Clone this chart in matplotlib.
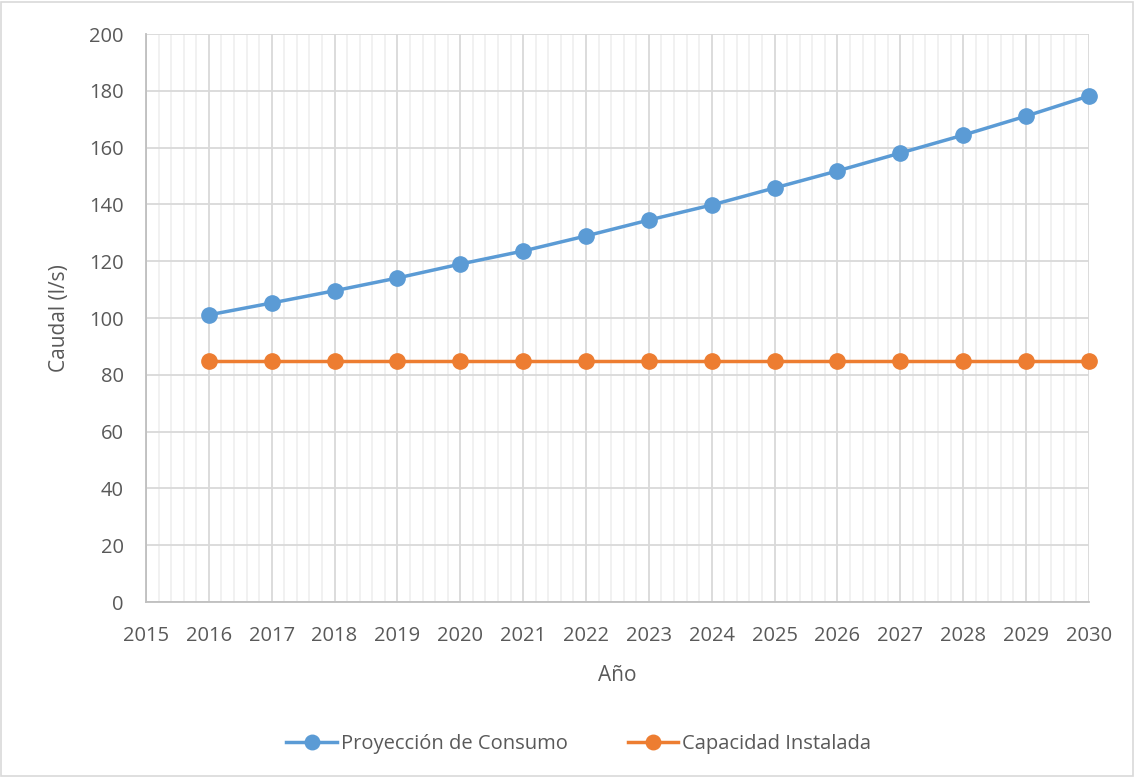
import matplotlib.pyplot as plt
from matplotlib.patches import Rectangle
from matplotlib.ticker import MultipleLocator

plt.rcParams['font.family'] = ['Open Sans', 'DejaVu Sans']

anios = [2016, 2017, 2018, 2019, 2020, 2021, 2022, 2023, 2024, 2025, 2026, 2027, 2028, 2029, 2030]
consumo = [101.1, 105.3, 109.6, 114.1, 119.0, 123.6, 128.9, 134.5, 139.8, 145.8, 151.8, 158.1, 164.4, 171.1, 178.2]
capacidad = [85, 85, 85, 85, 85, 85, 85, 85, 85, 85, 85, 85, 85, 85, 85]

gris_texto = '#595959'

fig = plt.figure(figsize=(11.35, 7.77), dpi=100)
ax = fig.add_axes([0.1286, 0.2252, 0.8308, 0.7310])

ax.plot(anios, consumo, color='#5B9BD5', linewidth=2.5, marker='o', markersize=11,
        label='Proyección de Consumo', zorder=3, clip_on=False)
ax.plot(anios, capacidad, color='#ED7D31', linewidth=2.5, marker='o', markersize=11,
        label='Capacidad Instalada', zorder=3, clip_on=False)

ax.set_xlim(2015, 2030)
ax.set_ylim(0, 200)
ax.xaxis.set_major_locator(MultipleLocator(1))
ax.xaxis.set_minor_locator(MultipleLocator(0.2))
ax.yaxis.set_major_locator(MultipleLocator(20))

ax.grid(which='major', color='#d9d9d9', linewidth=1.3)
ax.grid(which='minor', axis='x', color='#f0f0f0', linewidth=1.3)
ax.set_axisbelow(True)

for lado in ['top', 'right']:
    ax.spines[lado].set_visible(False)
for lado in ['left', 'bottom']:
    ax.spines[lado].set_color('#bfbfbf')
    ax.spines[lado].set_linewidth(1.3)

ax.tick_params(which='both', length=0, labelsize=14.5, colors=gris_texto)
ax.tick_params(axis='x', pad=17)
ax.tick_params(axis='y', pad=16)
ax.set_xticks(range(2015, 2031))
ax.set_xticklabels([str(a) for a in range(2015, 2031)])

ax.set_xlabel('Año', fontsize=15, color=gris_texto, labelpad=14)
ax.set_ylabel('Caudal (l/s)', fontsize=15, color=gris_texto, labelpad=14)

fig.legend(loc='center', bbox_to_anchor=(0.51, 0.042), ncol=2, frameon=False,
           fontsize=14.5, labelcolor=gris_texto, handlelength=2.5, handletextpad=0.2,
           columnspacing=3.0, markerscale=0.95)

fig.add_artist(Rectangle((0.001, 0.001), 0.997, 0.997, transform=fig.transFigure,
                         fill=False, edgecolor='#d9d9d9', linewidth=1.2))

fig.savefig('out.png', dpi=100)
